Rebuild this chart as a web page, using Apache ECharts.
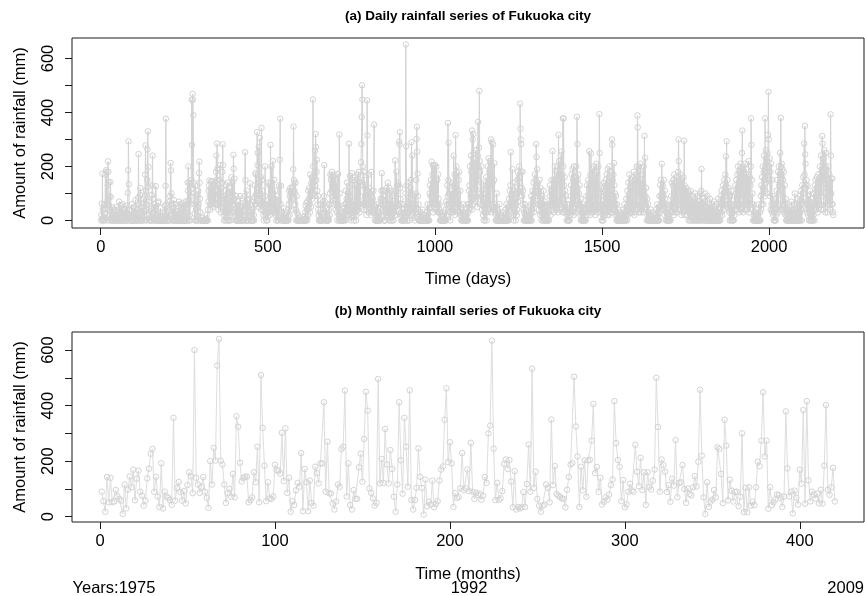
<!DOCTYPE html>
<html>
<head>
<meta charset="utf-8">
<title>Rainfall series of Fukuoka city</title>
<script src="https://cdn.jsdelivr.net/npm/echarts@6/dist/echarts.min.js"></script>
<style>
  html, body { margin: 0; padding: 0; background: #ffffff; }
  #chart { width: 865px; height: 596px; }
</style>
</head>
<body>
<div id="chart"></div>
<script>
// Daily rainfall (mm), day 1 .. 2192
const dailyRain = [
  0,20,62,5,173,40,0,0,12,3, 0,25,60,170,45,186,180,60,8,0, 130,219,180,140,55,90,20,0,142,87, 30,5,0,0,48,15,0,10,40,22, 0,0,8,35,0,12,50,18,0,0,
  5,30,0,0,70,45,10,0,0,25, 55,12,0,0,0,60,38,4,0,18, 0,42,0,0,10,30,0,55,8,0, 102,186,293,134,40,10,0,0,20,0, 0,35,60,15,0,0,0,22,48,5,
  0,0,30,75,10,0,0,40,12,0, 0,84,246,60,5,0,25,95,120,30, 0,0,48,20,0,10,62,80,35,0, 15,90,170,278,110,40,0,60,150,263, 330,125,198,70,20,0,0,35,10,0,
  0,45,95,130,240,80,12,0,0,30, 60,8,0,50,127,40,0,0,20,0, 0,65,70,10,0,0,0,18,45,0, 0,0,12,0,0,30,8,0,0,0, 25,55,0,128,377,60,10,0,0,15,
  0,30,5,0,0,70,40,90,213,186, 60,100,20,0,0,45,0,12,75,30, 0,0,0,60,20,0,0,35,0,8, 0,0,50,70,15,0,0,0,25,60, 10,0,0,40,65,20,0,0,55,0,
  12,0,0,30,70,45,0,0,60,140, 110,200,75,0,140,20,0,135,60,90, 150,446,280,120,469,448,390,140,100,60, 25,0,130,70,40,0,0,20,95,50, 0,110,60,175,218,140,80,30,0,0,
  0,0,0,0,10,0,0,0,0,0, 5,0,0,0,0,0,20,0,0,0, 40,70,110,130,148,90,60,40,110,145, 80,120,60,145,100,50,70,90,130,60, 110,140,60,90,180,240,150,285,192,60,
  130,40,100,70,150,60,205,80,30,120, 50,90,140,180,282,205,60,20,0,40, 90,30,0,110,60,130,40,0,80,140, 100,30,0,0,60,120,90,20,0,45, 160,70,30,140,100,60,243,192,80,155,
  60,20,0,45,90,30,0,0,55,20, 0,70,40,0,0,30,90,10,0,0, 25,50,0,0,65,20,0,0,40,90, 60,253,150,30,0,0,110,50,0,75, 20,0,0,35,80,40,137,60,0,0,
  0,25,0,0,40,0,70,20,0,85, 130,60,175,95,170,60,90,327,205,250, 120,50,272,80,140,305,60,90,160,40, 343,150,60,110,40,80,20,0,60,30, 90,200,30,60,20,0,0,45,0,15,
  60,140,40,30,130,20,60,280,140,50, 200,40,60,100,220,80,30,40,150,60, 30,110,70,20,0,60,90,30,0,50, 10,0,70,130,40,225,377,60,128,20, 0,0,30,10,0,0,45,0,0,20,
  0,0,10,0,0,30,0,0,0,15, 40,0,60,110,20,90,120,70,110,100, 40,80,120,125,90,190,348,150,110,137, 100,60,140,40,0,90,30,0,0,0, 20,0,0,0,0,10,0,0,0,0,
  0,0,5,0,0,0,0,0,15,0, 0,30,55,0,10,65,40,0,70,20, 110,45,80,120,60,30,170,90,50,140, 110,160,80,120,448,200,140,100,170,90, 258,130,320,272,150,180,225,110,60,90,
  40,20,0,0,0,30,0,60,0,0, 0,0,25,0,70,40,60,90,205,70, 30,0,0,0,45,0,20,0,0,0, 10,0,40,60,20,100,170,60,150,165, 110,180,130,90,160,150,60,120,170,80,
  150,120,40,90,140,60,30,0,50,172, 60,20,0,318,100,40,0,0,30,10, 0,0,0,15,0,0,45,0,20,60, 30,0,110,60,20,80,140,40,70,100, 50,20,284,60,30,165,90,10,0,60,
  20,175,60,150,30,50,70,0,40,160, 30,130,50,0,20,150,60,40,170,60, 40,180,60,30,140,60,90,130,216,283, 383,501,448,200,130,60,180,40,150,70, 90,60,130,40,20,60,445,315,110,60,
  170,30,120,60,50,100,40,20,90,180, 60,30,30,80,40,110,60,355,40,30, 0,0,50,20,0,0,60,0,0,30, 0,20,0,0,45,0,0,80,60,110, 175,80,40,110,90,60,20,0,30,0,
  0,40,110,30,120,60,20,50,140,60, 30,0,50,120,40,20,0,60,110,40, 20,0,90,30,60,0,40,30,100,20, 222,110,50,20,180,130,60,40,40,140, 60,130,292,282,327,120,80,30,0,60,
  20,0,0,0,40,0,0,25,60,10, 0,100,652,275,130,40,0,0,60,30, 30,140,60,0,80,40,120,20,150,290, 100,240,80,30,60,20,40,90,10,0, 60,100,30,150,302,347,255,173,90,40,
  60,0,0,20,0,30,0,0,0,15, 0,0,40,0,0,0,20,0,0,0, 10,0,0,0,30,0,0,60,20,0, 0,45,0,100,130,60,90,150,50,218, 120,60,170,205,30,205,80,190,50,205,
  130,60,90,200,40,60,150,30,60,170, 80,30,40,60,0,30,0,20,0,0, 0,0,15,0,0,0,30,0,10,0, 0,40,0,70,20,60,130,90,361,150, 288,100,60,140,30,0,50,110,60,30,
  90,40,140,60,30,240,130,60,170,20, 120,316,50,200,80,175,30,60,110,40, 150,180,60,30,30,110,20,20,0,40, 0,0,30,0,60,20,0,0,15,0, 0,40,0,0,20,0,0,60,0,30,
  60,110,40,130,200,50,90,240,180,40, 333,210,300,60,320,250,140,200,100,70, 230,120,260,80,90,210,50,240,365,200, 150,270,480,220,180,100,60,140,200,90, 40,110,60,20,130,0,80,30,0,60,
  100,30,160,60,0,130,30,200,60,140, 230,40,180,60,220,150,30,300,120,290, 160,60,140,282,40,50,150,212,30,40, 60,0,20,0,100,0,40,0,0,30, 0,0,60,0,0,20,0,0,0,10,
  0,0,0,30,0,0,0,20,0,0, 40,0,0,60,0,10,0,0,50,20, 0,80,60,110,40,130,253,90,30,60, 100,190,70,20,0,40,110,60,140,80, 30,0,60,100,20,40,150,180,70,110,
  160,200,90,140,433,340,300,283,180,120, 90,180,60,110,40,0,30,0,60,20, 0,0,40,0,0,20,0,0,0,30, 0,0,50,0,20,60,0,90,30,0, 40,110,60,80,140,30,100,60,170,110,
  150,90,283,235,130,190,80,140,60,110, 40,100,150,60,20,120,80,30,0,60, 90,20,0,40,110,60,0,30,70,0, 20,0,0,50,0,15,0,60,30,0, 0,40,90,130,60,20,110,60,150,90,
  60,257,100,40,150,30,60,130,200,50, 80,150,60,180,40,70,200,30,160,317, 130,220,40,170,60,150,240,50,255,140, 170,30,378,200,378,130,30,160,60,110, 40,90,30,0,60,20,0,40,0,0,
  0,30,0,60,20,90,130,40,170,60, 30,190,80,150,20,200,50,90,160,60, 140,30,200,110,384,283,150,40,170,60, 100,40,130,60,20,80,0,30,0,50, 0,20,0,60,0,0,30,0,40,0,
  0,40,90,20,130,60,30,40,150,90, 60,257,130,20,170,60,248,30,40,130, 190,60,30,150,80,200,40,60,170,20, 140,60,210,40,180,60,30,40,200,50, 100,394,250,130,60,90,30,120,0,40,
  0,20,60,0,90,140,50,20,110,60, 150,30,40,170,60,20,190,80,140,20, 110,200,40,160,60,30,80,180,30,300, 280,150,40,170,60,212,130,40,100,60, 20,90,30,0,60,0,20,0,40,0,
  0,0,30,0,0,15,0,0,0,20, 0,0,40,0,10,0,60,0,0,30, 0,20,80,40,0,110,60,20,140,90, 40,170,30,120,60,150,30,40,60,140, 30,160,50,110,180,60,20,30,150,40,
  170,60,130,200,40,389,345,150,90,200, 30,60,180,90,210,30,60,150,40,100, 60,170,30,130,200,80,313,50,232,90, 60,120,40,0,80,20,0,60,0,30, 0,0,20,0,0,40,0,10,0,0,
  0,0,0,30,0,0,0,0,20,0, 0,40,0,0,60,0,20,0,0,50, 0,90,30,130,60,150,90,40,210,100, 60,130,40,90,150,60,20,110,80,40, 0,60,30,0,20,0,40,0,0,0,
  20,0,0,60,0,30,90,40,140,60, 30,60,130,150,20,170,100,60,140,30, 120,60,160,30,70,130,40,180,300,220, 100,150,60,40,170,80,140,20,100,150, 30,120,60,160,40,295,130,20,110,60,
  40,90,120,60,20,80,110,40,0,60, 100,30,0,70,110,40,0,60,20,90, 40,0,30,0,80,20,60,0,100,40, 0,60,20,0,90,30,0,50,0,70, 20,0,60,100,30,0,110,190,40,60,
  0,60,20,80,0,40,0,70,100,30, 0,50,0,20,90,0,40,0,0,60, 20,0,80,40,0,0,30,0,60,0, 0,40,0,0,70,20,0,50,0,30, 0,0,60,0,20,0,0,80,30,0,
  40,0,20,0,60,90,30,110,60,20, 80,130,60,100,40,150,90,60,170,110, 237,130,293,90,150,60,100,40,120,60, 30,0,90,40,0,60,110,20,0,50, 0,30,0,0,60,20,90,40,130,60,
  100,150,60,40,170,90,200,60,130,180, 30,160,60,210,40,140,190,80,250,333, 150,30,200,120,60,170,40,210,80,140, 60,190,40,40,150,90,170,60,220,30, 80,160,60,130,200,378,280,150,60,100,
  40,0,60,20,0,0,30,0,0,15, 0,0,40,0,0,20,0,0,60,0, 0,0,30,0,90,40,130,60,160,100, 200,120,60,180,240,150,90,378,200,260, 140,230,180,100,250,160,317,476,300,200,
  150,230,90,180,40,210,60,150,30,40, 90,20,60,0,30,0,80,0,40,0, 20,60,110,40,150,30,180,60,200,130, 100,170,250,40,380,200,160,210,40,190, 90,150,60,180,30,40,130,60,20,80,
  0,40,0,20,0,60,0,0,30,0, 0,50,0,0,20,0,70,0,40,0, 0,30,0,0,60,0,100,20,0,40, 0,0,60,0,30,80,0,20,0,50, 0,90,30,0,110,40,60,0,130,70,
  100,160,60,120,285,170,350,245,210,130, 60,150,30,40,130,60,20,90,0,40, 0,60,110,20,0,40,0,80,30,0, 60,0,20,100,40,0,130,60,150,90, 40,110,160,60,100,30,170,90,60,140,
  100,200,60,150,240,40,180,90,313,285, 150,230,40,180,260,140,200,30,170,250, 120,190,60,150,30,200,80,130,60,170, 90,140,40,393,240,100,155,60,155,60, 30,20
];

// Monthly rainfall (mm), month 1 (Jan 1975) .. 420 (Dec 2009)
const monthlyRain = [
  90,56,18,143,52,140,52,55,96,73, 64,58,10,116,30,98,145,106,169,59,
  137,166,90,76,40,58,138,173,227,244, 90,144,73,35,192,30,90,73,68,60,
  43,356,58,104,125,89,58,92,48,114, 160,146,85,600,140,116,86,108,143,90,
  68,32,200,116,248,202,544,640,202,188, 116,50,85,100,72,154,70,362,324,194,
  127,140,144,144,52,60,70,160,124,252, 52,510,320,184,56,124,66,64,73,187,
  168,166,155,302,128,318,86,140,18,56, 42,95,122,108,229,20,172,124,20,130,
  50,40,180,157,120,192,192,412,90,270, 84,84,48,26,55,116,108,244,252,454,
  73,192,42,26,96,64,64,178,227,126, 280,450,382,102,86,66,40,50,496,120,
  208,122,316,188,120,240,172,72,18,116, 412,203,83,356,252,108,455,60,26,60,
  104,246,144,104,8,134,38,54,44,130, 34,46,56,130,170,181,349,462,197,268,
  192,35,85,68,71,103,229,96,103,170, 92,266,90,64,86,78,83,61,76,143,
  122,300,328,634,245,60,122,61,66,92, 190,206,172,204,127,34,164,26,35,30,
  34,88,35,118,260,90,533,104,162,64, 40,18,40,43,116,104,52,350,114,182,
  82,76,71,66,64,34,97,143,188,193, 504,325,217,35,180,95,203,72,203,205,
  274,406,157,179,90,140,44,54,70,62, 80,114,134,416,265,204,180,56,132,34,
  44,90,119,95,90,259,162,110,212,96, 160,43,160,107,98,130,170,500,323,90,
  206,186,162,89,114,54,137,112,276,70, 122,124,186,100,50,102,82,77,106,146,
  109,198,457,220,70,10,124,35,54,62, 96,70,250,244,154,49,349,256,59,133,
  94,55,89,90,38,72,300,17,104,16, 106,40,54,42,106,198,182,274,448,217,
  274,29,106,42,52,62,80,78,68,35, 73,379,174,73,90,12,94,68,44,169,
  119,384,47,416,131,55,90,80,65,83, 48,97,47,184,402,97,79,106,176,55
];

// Axis ticks and labels
const rainTicks = [0, 100, 200, 300, 400, 500, 600];
const rainLabels = [0, 200, 400, 600];
const dayTicks = [0, 500, 1000, 1500, 2000];
const monthTicks = [0, 100, 200, 300, 400];

const FONT = '"Liberation Sans", Arial, Helvetica, sans-serif';
const INK = '#1a1a1a';
const MARK = '#d3d3d3';
const MONTH_LINE = '#dedede';

const chart = echarts.init(document.getElementById('chart'), null, { renderer: 'canvas' });

function xAxisCfg(gridIndex, min, max, ticks) {
  return {
    type: 'value', gridIndex, min, max,
    axisLine: { show: false, onZero: false },
    splitLine: { show: false },
    axisTick: { show: true, length: 7, customValues: ticks, lineStyle: { color: INK, width: 1 } },
    axisLabel: { customValues: ticks, fontSize: 16.5, color: '#000', fontFamily: FONT, margin: 11,
                 formatter: v => String(v) }
  };
}
function yAxisCfg(gridIndex, min, max) {
  return {
    type: 'value', gridIndex, min, max,
    axisLine: { show: false, onZero: false },
    splitLine: { show: false },
    axisTick: { show: true, length: 7, customValues: rainTicks, lineStyle: { color: INK, width: 1 } },
    axisLabel: { customValues: rainLabels, rotate: 90, fontSize: 16.5, color: '#000', fontFamily: FONT, margin: 15,
                 formatter: v => String(v) }
  };
}
function rainSeries(idx, values, lineColor) {
  return {
    type: 'line', xAxisIndex: idx, yAxisIndex: idx,
    data: values.map((v, i) => [i + 1, v]),
    symbol: 'circle', symbolSize: 5.5, showSymbol: true, showAllSymbol: true,
    itemStyle: { color: 'rgba(0,0,0,0)', borderColor: MARK, borderWidth: 1 },
    lineStyle: { color: lineColor, width: 1 },
    emphasis: { disabled: true },
    silent: true, animation: false, sampling: null
  };
}
function label(text, x, y, size, align, extra) {
  return Object.assign({
    type: 'text', x, y, silent: true,
    style: { text, font: size + 'px ' + FONT, fill: '#000',
             align: align || 'center', verticalAlign: 'middle',
             textAlign: align || 'center', textVerticalAlign: 'middle' }
  }, extra || {});
}

chart.setOption({
  animation: false,
  backgroundColor: '#ffffff',
  grid: [
    { left: 72, top: 38, width: 792, height: 190, show: true, borderColor: INK, borderWidth: 1, backgroundColor: 'transparent' },
    { left: 72, top: 332, width: 792, height: 190, show: true, borderColor: INK, borderWidth: 1, backgroundColor: 'transparent' }
  ],
  xAxis: [ xAxisCfg(0, -86, 2284, dayTicks), xAxisCfg(1, -16, 436.7, monthTicks) ],
  yAxis: [ yAxisCfg(0, -28, 676), yAxisCfg(1, -19, 665) ],
  series: [ rainSeries(0, dailyRain, MARK), rainSeries(1, monthlyRain, MONTH_LINE) ],
  graphic: [
    label('(a) Daily rainfall series of Fukuoka city', 468, 16.5, 'bold 13.5'),
    label('(b) Monthly rainfall series of Fukuoka city', 468, 311.5, 'bold 13.5'),
    label('Time (days)', 468, 279.5, 16.5),
    label('Time (months)', 468, 574.5, 16.5),
    label('1992', 469, 588.5, 16.5),
    label('Years:1975', 72.5, 588.5, 16.5, 'left'),
    label('2009', 864, 588.5, 16.5, 'right'),
    label('Amount of rainfall (mm)', 20, 133, 16.5, null, { rotation: Math.PI / 2 }),
    label('Amount of rainfall (mm)', 20, 427, 16.5, null, { rotation: Math.PI / 2 })
  ]
});
</script>
</body>
</html>
